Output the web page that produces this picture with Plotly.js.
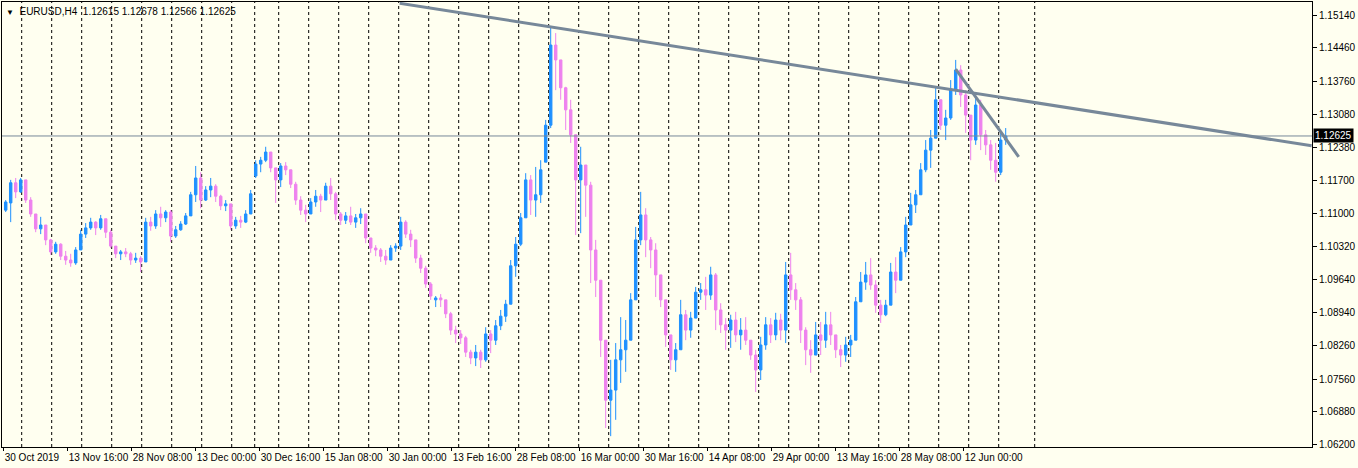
<!DOCTYPE html>
<html>
<head>
<meta charset="utf-8">
<script src="https://cdn.plot.ly/plotly-3.0.1.min.js"></script>
<style>html,body{margin:0;padding:0;background:#FFFFF0;}#chart{width:1358px;height:468px;}</style>
</head>
<body>
<div id="chart"></div>
<script>
// EURUSD H4, each candle aggregates 5 H4 bars
const opens = [1.1108,1.1123,1.1165,1.1146,1.1171,1.1129,1.1100,1.1069,1.1077,1.1046,
1.1021,1.1037,1.1012,1.1004,1.0998,1.1025,1.1058,1.1071,1.1083,1.1071,
1.1090,1.1062,1.1033,1.1017,1.1021,1.1017,1.1004,1.1008,1.1000,1.1083,
1.1075,1.1100,1.1092,1.1104,1.1054,1.1067,1.1079,1.1096,1.1140,1.1175,
1.1129,1.1150,1.1158,1.1137,1.1117,1.1121,1.1075,1.1087,1.1083,1.1100,
1.1179,1.1204,1.1212,1.1229,1.1196,1.1171,1.1200,1.1192,1.1162,1.1129,
1.1108,1.1100,1.1125,1.1137,1.1129,1.1158,1.1142,1.1100,1.1087,1.1096,
1.1083,1.1092,1.1100,1.1050,1.1029,1.1025,1.1012,1.1004,1.1029,1.1033,
1.1083,1.1058,1.1046,1.1008,1.0987,1.0954,1.0921,1.0925,1.0921,1.0892,
1.0858,1.0850,1.0842,1.0812,1.0800,1.0812,1.0796,1.0850,1.0837,1.0867,
1.0887,1.0912,1.0992,1.1037,1.1092,1.1171,1.1129,1.1140,1.1208,1.1285,
1.1452,1.1421,1.1363,1.1317,1.1265,1.1171,1.1202,1.1160,1.1025,1.0962,
1.0837,1.0712,1.0733,1.0796,1.0817,1.0837,1.0921,1.1046,1.1098,1.1046,
1.1025,1.0973,1.0921,1.0848,1.0796,1.0817,1.0890,1.0858,1.0883,1.0937,
1.0942,1.0931,1.0973,1.0900,1.0869,1.0858,1.0879,1.0848,1.0858,1.0837,
1.0806,1.0775,1.0827,1.0869,1.0848,1.0879,1.0858,1.0973,1.0942,1.0921,
1.0858,1.0817,1.0806,1.0848,1.0837,1.0869,1.0848,1.0817,1.0806,1.0827,
1.0837,1.0917,1.0958,1.0973,1.0952,1.0910,1.0890,1.0910,1.0979,1.0962,
1.1021,1.1077,1.1119,1.1140,1.1192,1.1233,1.1258,1.1338,1.1285,1.1300,
1.1358,1.1400,1.1348,1.1306,1.1254,1.1327,1.1265,1.1244,1.1212,1.1187,
1.1254];
const highs = [1.1129,1.1171,1.1175,1.1175,1.1171,1.1135,1.1100,1.1094,1.1077,1.1048,
1.1042,1.1039,1.1023,1.1017,1.1031,1.1067,1.1081,1.1092,1.1085,1.1098,
1.1090,1.1067,1.1033,1.1025,1.1029,1.1021,1.1019,1.1012,1.1092,1.1094,
1.1108,1.1115,1.1108,1.1108,1.1075,1.1085,1.1102,1.1146,1.1200,1.1187,
1.1158,1.1175,1.1162,1.1140,1.1129,1.1121,1.1094,1.1096,1.1108,1.1150,
1.1212,1.1219,1.1240,1.1229,1.1196,1.1206,1.1208,1.1192,1.1167,1.1137,
1.1119,1.1133,1.1150,1.1142,1.1165,1.1175,1.1146,1.1104,1.1104,1.1115,
1.1100,1.1112,1.1100,1.1050,1.1035,1.1029,1.1025,1.1035,1.1039,1.1094,
1.1087,1.1067,1.1046,1.1015,1.0992,1.0958,1.0929,1.0933,1.0921,1.0896,
1.0867,1.0858,1.0846,1.0817,1.0827,1.0817,1.0864,1.0858,1.0879,1.0900,
1.0921,1.1004,1.1052,1.1102,1.1185,1.1181,1.1198,1.1212,1.1296,1.1490,
1.1477,1.1421,1.1365,1.1338,1.1265,1.1240,1.1202,1.1167,1.1046,1.0962,
1.0837,1.0796,1.0831,1.0885,1.0879,1.0935,1.1073,1.1146,1.1112,1.1052,
1.1039,1.0973,1.0921,1.0848,1.0831,1.0921,1.0900,1.0896,1.0948,1.0956,
1.0969,1.0990,1.0977,1.0914,1.0883,1.0890,1.0896,1.0883,1.0885,1.0837,
1.0817,1.0844,1.0885,1.0883,1.0894,1.0892,1.1000,1.1019,1.0956,1.0927,
1.0864,1.0837,1.0875,1.0875,1.0896,1.0896,1.0848,1.0827,1.0844,1.0848,
1.0927,1.0979,1.1000,1.1008,1.0962,1.0921,1.0921,1.0998,1.1010,1.1031,
1.1094,1.1144,1.1150,1.1206,1.1254,1.1275,1.1365,1.1338,1.1317,1.1379,
1.1421,1.1410,1.1358,1.1306,1.1344,1.1338,1.1275,1.1254,1.1248,1.1269,
1.1279];
const lows = [1.1104,1.1083,1.1133,1.1144,1.1123,1.1094,1.1062,1.1058,1.1035,1.1015,
1.1017,1.1004,1.0994,1.0990,1.0994,1.1025,1.1050,1.1067,1.1056,1.1067,
1.1050,1.1029,1.1008,1.1004,1.1010,1.0994,1.0998,1.0979,1.1000,1.1065,
1.1069,1.1073,1.1083,1.1042,1.1050,1.1065,1.1077,1.1096,1.1125,1.1112,
1.1127,1.1135,1.1125,1.1108,1.1106,1.1067,1.1069,1.1071,1.1081,1.1100,
1.1175,1.1187,1.1208,1.1187,1.1123,1.1156,1.1181,1.1154,1.1119,1.1098,
1.1083,1.1100,1.1115,1.1104,1.1129,1.1129,1.1087,1.1077,1.1079,1.1077,
1.1071,1.1079,1.1039,1.1019,1.1012,1.1000,1.0994,1.1004,1.1021,1.1025,
1.1050,1.1031,1.0998,1.0977,1.0946,1.0921,1.0906,1.0906,1.0883,1.0848,
1.0831,1.0829,1.0802,1.0787,1.0783,1.0779,1.0792,1.0810,1.0827,1.0858,
1.0875,1.0912,1.0969,1.1033,1.1092,1.1098,1.1094,1.1123,1.1208,1.1279,
1.1358,1.1338,1.1275,1.1248,1.1056,1.1060,1.1094,1.0956,1.0927,1.0802,
1.0654,1.0637,1.0671,1.0748,1.0771,1.0837,1.0921,1.1035,1.1010,1.0987,
1.0927,1.0906,1.0823,1.0775,1.0771,1.0817,1.0837,1.0842,1.0883,1.0921,
1.0900,1.0921,1.0858,1.0852,1.0817,1.0821,1.0833,1.0817,1.0827,1.0796,
1.0729,1.0754,1.0817,1.0831,1.0837,1.0837,1.0831,1.0921,1.0900,1.0831,
1.0785,1.0769,1.0806,1.0806,1.0821,1.0827,1.0800,1.0781,1.0792,1.0802,
1.0837,1.0917,1.0942,1.0942,1.0894,1.0873,1.0887,1.0910,1.0935,1.0962,
1.1010,1.1077,1.1102,1.1140,1.1187,1.1196,1.1258,1.1275,1.1254,1.1296,
1.1348,1.1323,1.1269,1.1212,1.1244,1.1233,1.1223,1.1192,1.1167,1.1181,
1.1244];
const closes = [1.1125,1.1165,1.1146,1.1171,1.1129,1.1100,1.1069,1.1077,1.1046,1.1021,
1.1037,1.1012,1.1004,1.0998,1.1025,1.1058,1.1071,1.1083,1.1071,1.1090,
1.1062,1.1033,1.1017,1.1021,1.1017,1.1004,1.1008,1.1000,1.1083,1.1075,
1.1100,1.1092,1.1104,1.1054,1.1067,1.1079,1.1096,1.1140,1.1175,1.1129,
1.1150,1.1158,1.1137,1.1117,1.1121,1.1075,1.1087,1.1083,1.1100,1.1142,
1.1204,1.1212,1.1229,1.1196,1.1171,1.1200,1.1192,1.1162,1.1129,1.1108,
1.1100,1.1125,1.1137,1.1129,1.1158,1.1142,1.1100,1.1087,1.1096,1.1083,
1.1092,1.1100,1.1050,1.1029,1.1025,1.1012,1.1004,1.1029,1.1033,1.1083,
1.1058,1.1046,1.1008,1.0987,1.0954,1.0929,1.0925,1.0921,1.0892,1.0858,
1.0850,1.0842,1.0812,1.0800,1.0812,1.0796,1.0850,1.0837,1.0867,1.0887,
1.0912,1.0992,1.1037,1.1092,1.1171,1.1129,1.1140,1.1192,1.1285,1.1452,
1.1421,1.1363,1.1317,1.1265,1.1171,1.1202,1.1160,1.1025,1.0962,1.0837,
1.0712,1.0733,1.0796,1.0817,1.0837,1.0921,1.1046,1.1098,1.1046,1.1025,
1.0973,1.0921,1.0848,1.0796,1.0817,1.0890,1.0858,1.0883,1.0937,1.0942,
1.0931,1.0973,1.0900,1.0869,1.0858,1.0879,1.0848,1.0858,1.0837,1.0806,
1.0775,1.0827,1.0869,1.0848,1.0879,1.0858,1.0973,1.0942,1.0921,1.0858,
1.0817,1.0806,1.0848,1.0837,1.0869,1.0848,1.0817,1.0806,1.0827,1.0837,
1.0917,1.0958,1.0973,1.0952,1.0910,1.0890,1.0910,1.0979,1.0962,1.1021,
1.1077,1.1119,1.1140,1.1192,1.1233,1.1258,1.1338,1.1285,1.1300,1.1358,
1.1400,1.1348,1.1306,1.1254,1.1327,1.1265,1.1244,1.1212,1.1187,1.1254,
1.12625];
const barsPerCandle = 5;

// time axis labels (H4 bar index from 30 Oct 2019)
const tickBars = [0,64,128,192,256,320,384,448,512,576,640,704,768,832,896,960];
const tickLabels = ["30 Oct 2019","13 Nov 16:00","28 Nov 08:00","13 Dec 00:00","30 Dec 16:00","15 Jan 08:00",
"30 Jan 00:00","13 Feb 16:00","28 Feb 08:00","16 Mar 00:00","30 Mar 16:00","14 Apr 08:00",
"29 Apr 00:00","13 May 16:00","28 May 08:00","12 Jun 00:00"];
// weekly period separators (bar index of each Monday)
const weekBars = [18,48,78,108,138,168,198,228,251,275,305,335,365,395,425,455,485,515,545,575,605,635,665,695,725,755,785,815,845,875,905,935,965,995,1031];

// price scale
const priceTicks = [1.15140,1.14460,1.13760,1.13080,1.12380,1.11700,1.11000,1.10320,1.09640,1.08940,1.08260,1.07560,1.06880,1.06200];
const lastPrice = 1.12625;
const header = {symbol:"EURUSD,H4", o:"1.12615", h:"1.12678", l:"1.12566", c:"1.12625"};

// drawn trend lines (anchor points: bar index, price)
const trend1Bars = [396, 1308];
const trend1Prices = [1.1539, 1.1242];
const trend2Bars = [952, 1015];
const trend2Prices = [1.1402, 1.1219];

const xCandles = opens.map((_, i) => i * barsPerCandle + 2);
const BG = '#FFFFF0';
const FONT = 'Liberation Sans, Arial, sans-serif';
const TREND = '#778899';

const traces = [
  {
    type: 'candlestick', x: xCandles, open: opens, high: highs, low: lows, close: closes,
    increasing: {line: {color: '#1E90FF', width: 1}, fillcolor: '#1E90FF'},
    decreasing: {line: {color: '#EE82EE', width: 1}, fillcolor: '#EE82EE'},
    whiskerwidth: 0, hoverinfo: 'skip', showlegend: false
  },
  {type: 'scatter', mode: 'lines', x: trend1Bars, y: trend1Prices, line: {color: TREND, width: 3}, hoverinfo: 'skip', showlegend: false},
  {type: 'scatter', mode: 'lines', x: trend2Bars, y: trend2Prices, line: {color: TREND, width: 3}, hoverinfo: 'skip', showlegend: false}
];

const shapes = weekBars.map(b => ({
  type: 'line', xref: 'x', yref: 'paper', x0: b, x1: b, y0: 0, y1: 1,
  line: {color: '#000000', width: 1, dash: '3px,3px'}, layer: 'below'
}));
shapes.push({type: 'line', xref: 'paper', yref: 'y', x0: 0, x1: 1, y0: lastPrice, y1: lastPrice,
  line: {color: TREND, width: 1}, layer: 'above'});

const nb = '\u00a0';
const layout = {
  width: 1358, height: 468,
  margin: {l: 2, r: 46, t: 2, b: 21, pad: 0},
  paper_bgcolor: BG, plot_bgcolor: BG,
  font: {family: FONT, size: 10, color: '#000000'},
  showlegend: false,
  xaxis: {
    type: 'linear', range: [-1.7, 1308.3], fixedrange: true,
    showgrid: false, zeroline: false, rangeslider: {visible: false},
    showline: true, mirror: true, linecolor: '#000000', linewidth: 1,
    ticks: 'outside', ticklen: 3, tickcolor: '#000000',
    tickvals: tickBars, ticktext: tickLabels, ticklabelposition: 'outside right',
    tickangle: 0, ticklabelstandoff: 1,
    tickfont: {family: FONT, size: 10, color: '#000000'}
  },
  yaxis: {
    side: 'right', range: [1.06144, 1.15417], fixedrange: true,
    showgrid: false, zeroline: false,
    showline: true, mirror: true, linecolor: '#000000', linewidth: 1,
    ticks: 'outside', ticklen: 4, tickcolor: '#000000',
    tickvals: priceTicks, ticktext: priceTicks.map(v => v.toFixed(5)),
    tickfont: {family: FONT, size: 10, color: '#000000'}
  },
  shapes: shapes,
  annotations: [
    {xref: 'paper', yref: 'paper', x: 0, y: 1, xanchor: 'left', yanchor: 'top', xshift: 2, yshift: -2,
     showarrow: false, align: 'left',
     text: '<span style="font-size:8px">▼</span>' + nb + nb + header.symbol + nb + nb + header.o + nb + header.h + nb + header.l + nb + header.c,
     font: {family: FONT, size: 10, color: '#000000'}},
    {xref: 'paper', yref: 'y', x: 1, y: lastPrice, xanchor: 'left', yanchor: 'middle', xshift: 1,
     showarrow: false, text: lastPrice.toFixed(5), bgcolor: '#000000', borderpad: 1,
     font: {family: FONT, size: 10, color: '#FFFFFF'}}
  ]
};

Plotly.newPlot('chart', traces, layout, {displayModeBar: false, staticPlot: true});
</script>
</body>
</html>
